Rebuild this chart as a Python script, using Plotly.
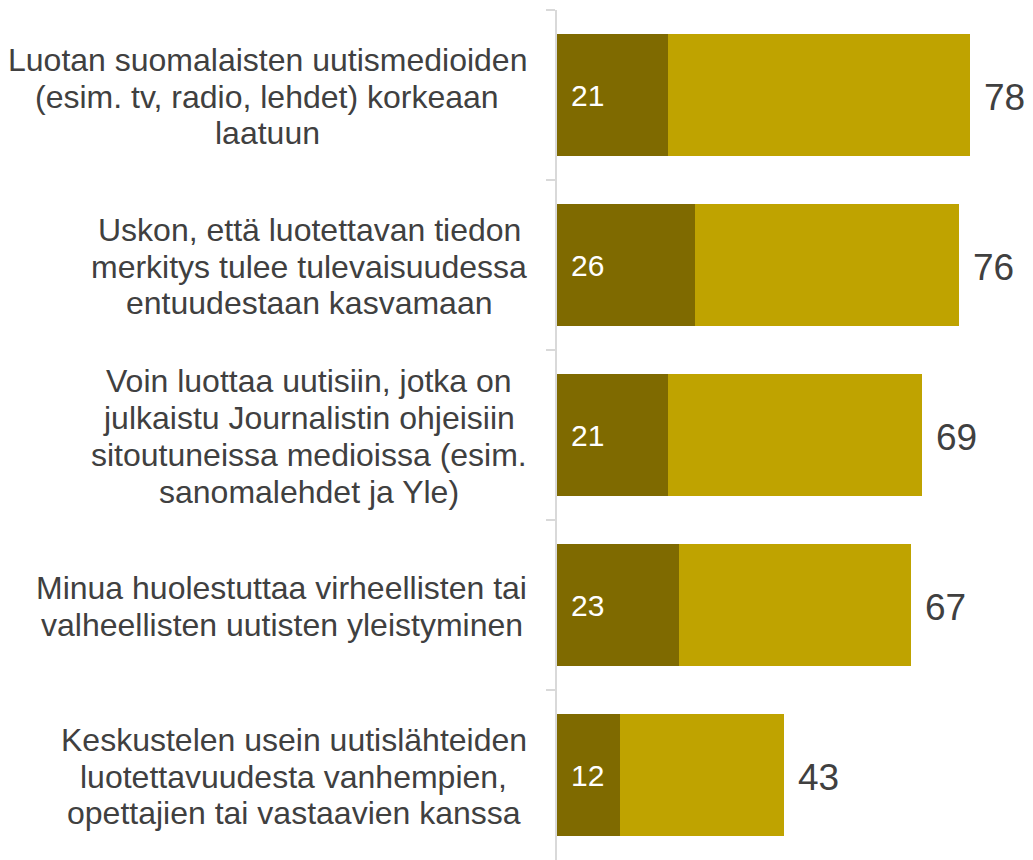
import plotly.graph_objects as go

categories = [
    "Luotan suomalaisten uutismedioiden<br>(esim. tv, radio, lehdet) korkeaan<br>laatuun",
    "Uskon, että luotettavan tiedon<br>merkitys tulee tulevaisuudessa<br>entuudestaan kasvamaan",
    "Voin luottaa uutisiin, jotka on<br>julkaistu Journalistin ohjeisiin<br>sitoutuneissa medioissa (esim.<br>sanomalehdet ja Yle)",
    "Minua huolestuttaa virheellisten tai<br>valheellisten uutisten yleistyminen",
    "Keskustelen usein uutislähteiden<br>luotettavuudesta vanhempien,<br>opettajien tai vastaavien kanssa",
]
strongly_agree = [21, 26, 21, 23, 12]
total_agree = [78, 76, 69, 67, 43]
rest_agree = [t - s for t, s in zip(total_agree, strongly_agree)]

DARK = "#7F6A00"
LIGHT = "#BFA300"
TEXT = "#404040"
FONT = "Liberation Sans, Arial, sans-serif"

LABEL_SIZE = 32
LINE_GAP = 36.7
LABEL_RIGHT_PAD = 30

# Arial / Liberation Sans advance widths (per 1000 em)
W = {c: 556 for c in "abdeghnopqu0123456789äö"}
W.update({"c": 500, "f": 278, "i": 222, "j": 222, "k": 500, "l": 222, "m": 833,
          "r": 333, "s": 500, "t": 278, "v": 500, "w": 722, "x": 500, "y": 500,
          "z": 500, " ": 278, "(": 333, ")": 333, ",": 278, ".": 278,
          "J": 500, "K": 667, "L": 556, "M": 833, "U": 722, "V": 667, "Y": 667})


def text_width(s, size):
    return sum(W.get(ch, 556) for ch in s) * size / 1000.0


fig = go.Figure()
fig.add_trace(go.Bar(
    y=categories, x=strongly_agree, orientation="h",
    marker=dict(color=DARK, line=dict(width=0)),
    hoverinfo="skip", showlegend=False,
))
fig.add_trace(go.Bar(
    y=categories, x=rest_agree, orientation="h",
    marker=dict(color=LIGHT, line=dict(width=0)),
    hoverinfo="skip", showlegend=False,
))

annotations = []
# total labels
for cat, v in zip(categories, total_agree):
    annotations.append(dict(
        x=v, y=cat, xref="x", yref="y", text=str(v), showarrow=False,
        xanchor="left", yanchor="middle", xshift=12, yshift=-2,
        font=dict(family=FONT, size=37, color=TEXT),
    ))
# inside labels for dark segments
for cat, v in zip(categories, strongly_agree):
    annotations.append(dict(
        x=0, y=cat, xref="x", yref="y", text=str(v), showarrow=False,
        xanchor="left", yanchor="middle", xshift=12,
        font=dict(family=FONT, size=30, color="white"),
    ))

# category labels, line by line (centered block, right edge near the axis)
for cat in categories:
    lines = cat.split("<br>")
    maxw = max(text_width(l, LABEL_SIZE) for l in lines)
    n = len(lines)
    for i, line in enumerate(lines):
        annotations.append(dict(
            x=0, y=cat, xref="paper", yref="y", text=line, showarrow=False,
            xanchor="center", yanchor="middle",
            xshift=-(LABEL_RIGHT_PAD + maxw / 2),
            yshift=((n - 1) / 2 - i) * LINE_GAP - 1.5,
            font=dict(family=FONT, size=LABEL_SIZE, color=TEXT),
        ))

# page body has an 8px margin: size the figure so it ends at the window edge
fig.update_layout(
    width=1025, height=852,
    barmode="stack", bargap=0.28,
    margin=dict(l=549, r=0, t=2, b=0),
    paper_bgcolor="white", plot_bgcolor="white",
    font=dict(family=FONT, color=TEXT),
    annotations=annotations,
    xaxis=dict(range=[0, 90], visible=False, fixedrange=True),
    yaxis=dict(
        categoryorder="array", categoryarray=categories, autorange="reversed",
        showticklabels=False, ticks="outside", tickson="boundaries",
        ticklen=9, tickcolor="#D9D9D9", tickwidth=1.5,
        showline=True, linecolor="#D9D9D9", linewidth=1.5,
        showgrid=False, zeroline=False, fixedrange=True,
    ),
)

fig.write_html("out.html")
